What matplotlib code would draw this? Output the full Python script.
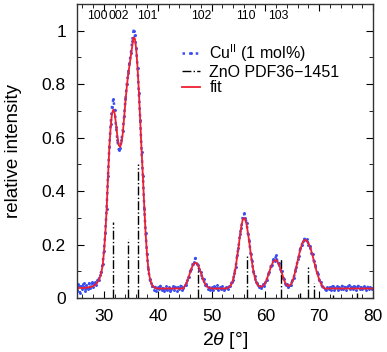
import matplotlib
matplotlib.use('Agg')
import matplotlib.pyplot as plt
import numpy as np
from matplotlib.ticker import MultipleLocator

plt.rcParams['font.family'] = ['Liberation Sans', 'DejaVu Sans']
plt.rcParams['mathtext.fontset'] = 'custom'
plt.rcParams['mathtext.it'] = 'Liberation Sans:italic'
plt.rcParams['mathtext.rm'] = 'Liberation Sans'

# 2theta grid, 0.25 deg steps from 25 to 80
two_theta = np.linspace(25, 80, 221)

# measured pattern, Cu(II) 1 mol%
counts = [
    0.030, 0.052, 0.021, 0.045,  0.036, 0.058, 0.025, 0.048,
    0.034, 0.055, 0.038, 0.060,  0.041, 0.062, 0.050, 0.066,
    0.068, 0.085, 0.098, 0.128,  0.175, 0.245, 0.335, 0.455,
    0.565, 0.650, 0.715, 0.745,  0.705, 0.640, 0.590, 0.555,
    0.560, 0.590, 0.625, 0.680,  0.745, 0.800, 0.840, 0.880,
    0.915, 0.960, 1.000, 0.985,  0.935, 0.860, 0.765, 0.665,
    0.545, 0.455, 0.335, 0.245,  0.165, 0.108, 0.070, 0.058,
    0.045, 0.030, 0.042, 0.028,  0.040, 0.033, 0.046, 0.030,
    0.038, 0.026, 0.044, 0.032,  0.040, 0.028, 0.036, 0.045,
    0.030, 0.042, 0.027, 0.040,  0.034, 0.046, 0.030, 0.038,
    0.050, 0.048, 0.068, 0.078,  0.100, 0.108, 0.128, 0.135,
    0.150, 0.128, 0.125, 0.105,  0.098, 0.075, 0.070, 0.050,
    0.052, 0.036, 0.042, 0.030,  0.040, 0.030, 0.044, 0.038,
    0.048, 0.032, 0.040, 0.035,  0.044, 0.030, 0.038, 0.042,
    0.036, 0.046, 0.044, 0.062,  0.068, 0.095, 0.118, 0.162,
    0.188, 0.238, 0.262, 0.300,  0.318, 0.300, 0.282, 0.240,
    0.215, 0.165, 0.140, 0.100,  0.082, 0.060, 0.055, 0.042,
    0.046, 0.038, 0.052, 0.045,  0.062, 0.068, 0.090, 0.098,
    0.120, 0.125, 0.145, 0.140,  0.160, 0.133, 0.130, 0.108,
    0.100, 0.076, 0.070, 0.050,  0.052, 0.040, 0.050, 0.048,
    0.066, 0.074, 0.100, 0.115,  0.145, 0.158, 0.188, 0.198,
    0.215, 0.222, 0.218, 0.222,  0.200, 0.196, 0.170, 0.165,
    0.138, 0.125, 0.098, 0.090,  0.068, 0.060, 0.045, 0.040,
    0.036, 0.030, 0.042, 0.035,  0.040, 0.032, 0.045, 0.030,
    0.038, 0.044, 0.032, 0.040,  0.036, 0.046, 0.034, 0.042,
    0.030, 0.040, 0.048, 0.036,  0.042, 0.034, 0.044, 0.032,
    0.040, 0.046, 0.035, 0.041,  0.033, 0.044, 0.038, 0.030,
    0.042, 0.036, 0.040, 0.034,  0.038,
]

# fitted profile
fit = [
    0.038, 0.038, 0.038, 0.038,  0.038, 0.038, 0.039, 0.039,
    0.040, 0.041, 0.042, 0.043,  0.045, 0.048, 0.052, 0.058,
    0.066, 0.078, 0.095, 0.120,  0.170, 0.240, 0.330, 0.450,
    0.560, 0.640, 0.690, 0.705,  0.690, 0.650, 0.605, 0.572,
    0.565, 0.580, 0.615, 0.675,  0.735, 0.790, 0.835, 0.870,
    0.905, 0.940, 0.975, 0.970,  0.930, 0.860, 0.770, 0.660,
    0.550, 0.450, 0.340, 0.240,  0.165, 0.110, 0.078, 0.058,
    0.048, 0.042, 0.039, 0.037,  0.036, 0.036, 0.036, 0.036,
    0.036, 0.036, 0.036, 0.036,  0.036, 0.036, 0.036, 0.036,
    0.036, 0.036, 0.036, 0.036,  0.036, 0.036, 0.036, 0.036,
    0.045, 0.053, 0.065, 0.080,  0.095, 0.110, 0.122, 0.130,
    0.132, 0.130, 0.122, 0.110,  0.095, 0.080, 0.066, 0.055,
    0.047, 0.042, 0.039, 0.037,  0.036, 0.036, 0.036, 0.036,
    0.036, 0.036, 0.036, 0.036,  0.036, 0.036, 0.036, 0.036,
    0.038, 0.041, 0.046, 0.055,  0.070, 0.090, 0.120, 0.155,
    0.190, 0.230, 0.265, 0.290,  0.300, 0.295, 0.275, 0.245,
    0.210, 0.170, 0.135, 0.105,  0.080, 0.063, 0.052, 0.046,
    0.043, 0.043, 0.045, 0.050,  0.058, 0.070, 0.085, 0.100,
    0.115, 0.128, 0.137, 0.142,  0.142, 0.137, 0.127, 0.113,
    0.097, 0.080, 0.066, 0.055,  0.049, 0.046, 0.047, 0.052,
    0.062, 0.077, 0.096, 0.118,  0.140, 0.162, 0.182, 0.199,
    0.211, 0.217, 0.217, 0.212,  0.205, 0.193, 0.178, 0.160,
    0.140, 0.120, 0.100, 0.085,  0.070, 0.057, 0.047, 0.040,
    0.036, 0.036, 0.036, 0.036,  0.036, 0.036, 0.036, 0.036,
    0.036, 0.036, 0.036, 0.036,  0.036, 0.036, 0.036, 0.036,
    0.036, 0.036, 0.036, 0.036,  0.036, 0.036, 0.036, 0.036,
    0.036, 0.036, 0.036, 0.036,  0.036, 0.036, 0.036, 0.036,
    0.036, 0.036, 0.036, 0.036,  0.036,
]

# ZnO reference PDF 36-1451 (scaled)
zno_pos = [31.77, 34.42, 36.25, 47.54, 56.60, 62.86, 66.38, 67.96, 69.10, 72.56, 76.95]
zno_int = [0.285, 0.220, 0.500, 0.115, 0.160, 0.145, 0.020, 0.115, 0.055, 0.010, 0.020]

# reflection labels
hkl = ['100', '002', '101', '102', '110', '103']
hkl_pos = [28.8, 32.8, 38.1, 48.1, 56.3, 62.4]

fig = plt.figure(figsize=(3.87, 3.52), dpi=100)
ax = fig.add_axes([0.199, 0.153, 0.765, 0.836])

ax.plot(two_theta, counts, color='#3a4df0', linestyle=':', linewidth=1.8,
        marker='.', markersize=2.2, label=r'Cu$^{\rm II}$ (1 mol%)')
ax.vlines(zno_pos, 0, zno_int, colors='black', linestyles='dashdot',
          linewidth=1.0, label='ZnO PDF36\u22121451')
ax.plot(two_theta, fit, color='#ee2030', linewidth=1.3, label='fit')

for lab, p in zip(hkl, hkl_pos):
    ax.text(p, 1.056, lab, ha='center', va='center', fontsize=8.8)

ax.set_xlim(25, 80)
ax.set_ylim(0, 1.1)
ax.xaxis.set_major_locator(MultipleLocator(10))
ax.xaxis.set_minor_locator(MultipleLocator(2))
ax.yaxis.set_minor_locator(MultipleLocator(0.1))
ax.set_yticks([0, 0.2, 0.4, 0.6, 0.8, 1.0])
ax.set_yticklabels(['0', '0.2', '0.4', '0.6', '0.8', '1'])
ax.tick_params(which='both', direction='in', top=True, right=True,
               labelsize=12.5, pad=8)
ax.tick_params(which='major', length=5)
ax.tick_params(which='minor', length=3)
for s in ax.spines.values():
    s.set_linewidth(1.0)
    s.set_color('#333333')

ax.set_xlabel(r'2$\theta$ [°]', fontsize=14, labelpad=4)
ax.set_ylabel('relative intensity', fontsize=13.5, labelpad=14)

leg = ax.legend(loc='upper left', bbox_to_anchor=(0.355, 0.87), frameon=False,
                fontsize=11.5, handlelength=1.1, handletextpad=0.6,
                labelspacing=0.05, borderpad=0, borderaxespad=0)

fig.savefig('out.png', dpi=100)
